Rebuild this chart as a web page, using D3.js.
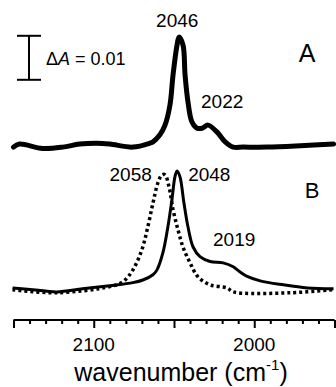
<!DOCTYPE html>
<html>
<head>
<meta charset="utf-8">
<script src="https://cdn.jsdelivr.net/npm/d3@7"></script>
<style>
  html, body { margin: 0; padding: 0; background: #fff; }
  text { font-family: Arial, "Liberation Sans", sans-serif; fill: #000; }
</style>
</head>
<body>
<div id="chart"></div>
<script>
// spectrum A (wavenumber, absorbance)
const wnA = [2150, 2146.3, 2131.9, 2119.4, 2108.8, 2098.1, 2090, 2075.6, 2065, 2063.1, 2058.8, 2055.6, 2052.5, 2050.6, 2048.1, 2046.9, 2044.4, 2043.1, 2041.3, 2038.8, 2035.6, 2032.5, 2028.8, 2023.1, 2018.1, 2013.1, 2006.9, 1991.9, 1971.3, 1950.6];
const absA = [0.0002, 0.0009, -0.0001, 0.0002, 0.0009, 0.0011, 0.0009, 0.0002, 0.0011, 0.0014, 0.003, 0.0052, 0.0098, 0.0166, 0.0234, 0.0252, 0.0234, 0.0166, 0.0105, 0.0059, 0.0045, 0.0045, 0.0052, 0.0036, 0.0014, 0.0002, 0.0002, 0.0002, 0.0005, 0.0009];

// spectrum B, solid
const wnB1 = [2150.6, 2138.1, 2123.1, 2106.9, 2090, 2075.6, 2069.4, 2063.1, 2060.6, 2056.9, 2053.8, 2051.3, 2049.4, 2048.1, 2046.3, 2043.8, 2041.3, 2038.1, 2033.8, 2027.5, 2019.4, 2013.1, 2008.8, 2004.4, 1996.3, 1981.9, 1966.9, 1950.6];
const absB1 = [0.0002, -0.0002, -0.0007, 0, 0.0007, 0.0014, 0.002, 0.0032, 0.0043, 0.0082, 0.0141, 0.0202, 0.0255, 0.0268, 0.0255, 0.0195, 0.0141, 0.0095, 0.0073, 0.0062, 0.0059, 0.005, 0.0038, 0.0028, 0.0018, 0.0009, 0.0002, 0];

// spectrum B, dotted
const wnB2 = [2150.6, 2123.1, 2090, 2081.9, 2075.6, 2070, 2066.3, 2063.1, 2060, 2057.5, 2055.6, 2053.1, 2050.6, 2047.5, 2044.4, 2040, 2035, 2027.5, 2016.9, 2013.1, 1977.5, 1950.6];
const absB2 = [-0.0002, -0.0009, 0.0005, 0.0016, 0.0043, 0.0089, 0.0141, 0.0195, 0.0241, 0.0259, 0.0259, 0.0232, 0.018, 0.0134, 0.0095, 0.0059, 0.0027, 0.0009, 0.0002, -0.0007, -0.0009, -0.0002];

const offsetB = -0.032;
const tickLabels = [2100, 2000];

const peakLabels = [
  { wn: 2048, a: 0.0275, text: "2046" },
  { wn: 2020, a: 0.0091, text: "2022" },
  { wn: 2077, a: offsetB + 0.0245, text: "2058" },
  { wn: 2028, a: offsetB + 0.0245, text: "2048" },
  { wn: 2012.5, a: offsetB + 0.0098, text: "2019" }
];

const width = 336, height = 387;

const svg = d3.select("#chart").append("svg")
  .attr("width", width)
  .attr("height", height);

const x = d3.scaleLinear().domain([2150, 1950]).range([13.5, 334.5]);
const y = d3.scaleLinear().domain([0, 0.01]).range([148, 104]);

const line = d3.line()
  .x(d => x(d[0]))
  .y(d => y(d[1]))
  .curve(d3.curveCatmullRom.alpha(0.5));

const seriesA = d3.zip(wnA, absA);
const seriesB1 = d3.zip(wnB1, absB1.map(v => v + offsetB));
const seriesB2 = d3.zip(wnB2, absB2.map(v => v + offsetB));

svg.append("path").datum(seriesA)
  .attr("d", line).attr("fill", "none")
  .attr("stroke", "#000").attr("stroke-width", 5)
  .attr("stroke-linejoin", "round").attr("stroke-linecap", "round");

svg.append("path").datum(seriesB2)
  .attr("d", line).attr("fill", "none")
  .attr("stroke", "#000").attr("stroke-width", 3.5)
  .attr("stroke-dasharray", "3,3");

svg.append("path").datum(seriesB1)
  .attr("d", line).attr("fill", "none")
  .attr("stroke", "#000").attr("stroke-width", 3)
  .attr("stroke-linejoin", "round");

// x axis, no vertical axis
const axisY = 320;
const gx = svg.append("g").attr("transform", `translate(0,${axisY})`);
gx.call(d3.axisBottom(x).tickValues(d3.range(2150, 1949, -10)).tickSize(4).tickFormat(""));
gx.call(g => g.select(".domain").attr("stroke-width", 2).attr("d", `M${x(2150)},0H${x(1950)}`));
gx.selectAll(".tick line")
  .attr("stroke-width", 2)
  .attr("y2", d => d % 50 === 0 ? 8 : 4);

svg.selectAll(".tlabel").data(tickLabels).join("text")
  .attr("x", d => x(d)).attr("y", 351)
  .attr("text-anchor", "middle").attr("font-size", 19)
  .text(d => d);

const title = svg.append("text")
  .attr("x", 181).attr("y", 381)
  .attr("text-anchor", "middle").attr("font-size", 25);
title.append("tspan").text("wavenumber (cm");
title.append("tspan").attr("font-size", 15).attr("dy", -11).text("-1");
title.append("tspan").attr("dy", 11).text(")");

// peak labels
svg.selectAll(".plabel").data(peakLabels).join("text")
  .attr("x", d => x(d.wn)).attr("y", d => y(d.a))
  .attr("text-anchor", "middle").attr("font-size", 19)
  .text(d => d.text);

// panel letters
svg.append("text").attr("x", 307).attr("y", 62).attr("text-anchor", "middle").attr("font-size", 25).text("A");
svg.append("text").attr("x", 312).attr("y", 198).attr("text-anchor", "middle").attr("font-size", 22).text("B");

// scale bar, dA = 0.01
const barX = 29, barTop = 0.0255, barBot = 0.0155;
const bar = svg.append("g").attr("stroke", "#000").attr("stroke-width", 2);
bar.append("line").attr("x1", barX).attr("x2", barX).attr("y1", y(barTop)).attr("y2", y(barBot));
bar.append("line").attr("x1", 17).attr("x2", 41).attr("y1", y(barTop)).attr("y2", y(barTop));
bar.append("line").attr("x1", 17).attr("x2", 41).attr("y1", y(barBot)).attr("y2", y(barBot));

const sb = svg.append("text").attr("x", 46).attr("y", 65).attr("font-size", 18);
sb.append("tspan").text("\u0394");
sb.append("tspan").attr("font-style", "italic").text("A");
sb.append("tspan").text(" = 0.01");
</script>
</body>
</html>
